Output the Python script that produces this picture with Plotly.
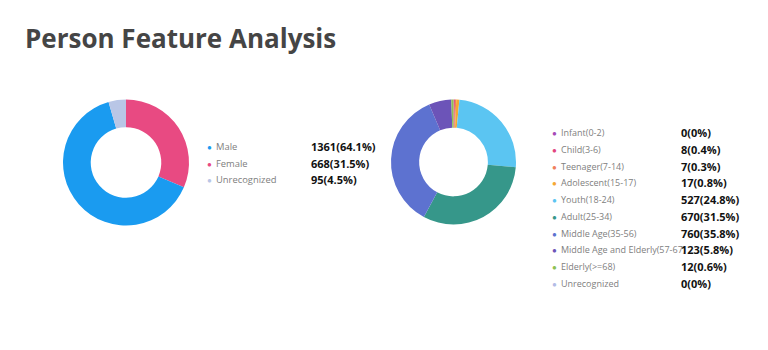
import plotly.graph_objects as go

W, H = 768, 350

# Gender breakdown
gender_labels = ["Male", "Female", "Unrecognized"]
gender_values = [1361, 668, 95]
gender_pct = ["64.1%", "31.5%", "4.5%"]
gender_colors = ["#1A9BF0", "#E84A82", "#B9C6E6"]
# slice drawing order (clockwise from 12 o'clock)
gender_draw_order = ["Female", "Male", "Unrecognized"]

# Age breakdown
age_labels = ["Infant(0-2)", "Child(3-6)", "Teenager(7-14)", "Adolescent(15-17)",
              "Youth(18-24)", "Adult(25-34)", "Middle Age(35-56)",
              "Middle Age and Elderly(57-67)", "Elderly(>=68)", "Unrecognized"]
age_values = [0, 8, 7, 17, 527, 670, 760, 123, 12, 0]
age_pct = ["0%", "0.4%", "0.3%", "0.8%", "24.8%", "31.5%", "35.8%", "5.8%", "0.6%", "0%"]
age_colors = ["#A64BB8", "#E2457E", "#F07F5C", "#F5A833", "#5BC5F2", "#36978A",
              "#5D72D0", "#6C54B8", "#8DC152", "#B3BCE6"]

FONT = "Open Sans"


def px_domain(cx, cy, r):
    return dict(x=[(cx - r) / W, (cx + r) / W],
                y=[(H - cy - r) / H, (H - cy + r) / H])


fig = go.Figure()

g_idx = [gender_labels.index(n) for n in gender_draw_order]
fig.add_trace(go.Pie(
    labels=[gender_labels[i] for i in g_idx],
    values=[gender_values[i] for i in g_idx],
    marker=dict(colors=[gender_colors[i] for i in g_idx], line=dict(width=0)),
    hole=0.56, sort=False, direction="clockwise", rotation=0,
    textinfo="none", showlegend=False,
    domain=px_domain(126, 162.5, 63),
))

fig.add_trace(go.Pie(
    labels=age_labels, values=age_values,
    marker=dict(colors=age_colors, line=dict(width=0)),
    hole=0.55, sort=False, direction="clockwise", rotation=0,
    textinfo="none", showlegend=False,
    domain=px_domain(453.5, 162, 62.5),
))

annotations = [dict(
    text="<b>Person Feature Analysis</b>", x=23 / W, y=1 - 38 / H,
    xref="paper", yref="paper", xanchor="left", yanchor="middle",
    showarrow=False, font=dict(family=FONT, size=26, color="#454545"),
)]


def add_legend(labels, vals, pcts, colors, dot_x, text_x, val_x, y0, dy, size):
    for i, (lab, v, p, c) in enumerate(zip(labels, vals, pcts, colors)):
        y = 1 - (y0 + i * dy) / H
        annotations.append(dict(text="●", x=dot_x / W, y=y, xref="paper", yref="paper",
                                xanchor="center", yanchor="middle", showarrow=False,
                                font=dict(family=FONT, size=8, color=c)))
        annotations.append(dict(text=lab, x=text_x / W, y=y, xref="paper", yref="paper",
                                xanchor="left", yanchor="middle", showarrow=False,
                                borderpad=0,
                                font=dict(family=FONT, size=size, color="#808080")))
        annotations.append(dict(text=f"<b>{v}({p})</b>", x=val_x / W, y=y,
                                xref="paper", yref="paper", xanchor="left",
                                yanchor="middle", showarrow=False, borderpad=0,
                                font=dict(family=FONT, size=11, color="#111111")))


add_legend(gender_labels, gender_values, gender_pct, gender_colors,
           209.5, 214.5, 310, 146, 17, 9.4)
add_legend(age_labels, age_values, age_pct, age_colors,
           554.5, 559.5, 680, 132.7, 16.75, 9)

fig.update_layout(
    width=W, height=H, margin=dict(l=0, r=0, t=0, b=0),
    paper_bgcolor="white", plot_bgcolor="white",
    annotations=annotations,
)

fig.write_html("out.html")
